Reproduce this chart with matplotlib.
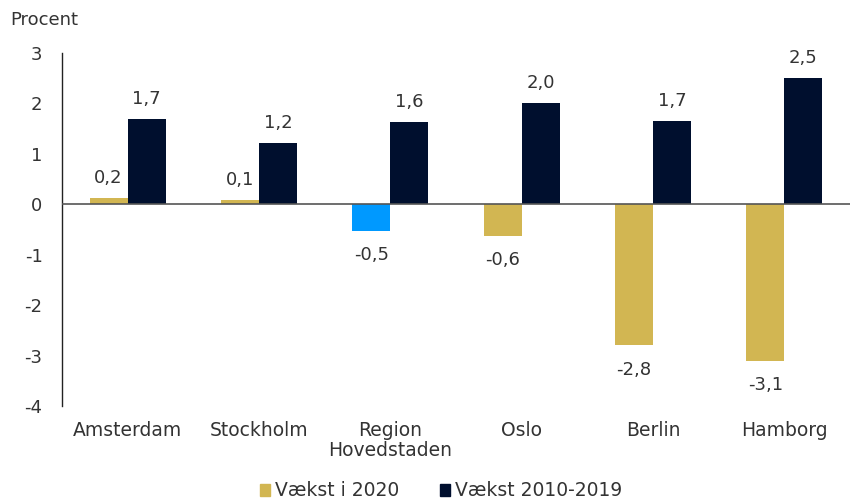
import matplotlib
matplotlib.use("Agg")
import matplotlib.pyplot as plt
import numpy as np
from matplotlib.patches import Patch

categories = ["Amsterdam", "Stockholm", "Region\nHovedstaden", "Oslo", "Berlin", "Hamborg"]
growth_2020 = [0.12, 0.08, -0.52, -0.63, -2.8, -3.1]
growth_2020_labels = ["0,2", "0,1", "-0,5", "-0,6", "-2,8", "-3,1"]
growth_2010_2019 = [1.69, 1.21, 1.63, 2.0, 1.65, 2.5]
growth_2010_2019_labels = ["1,7", "1,2", "1,6", "2,0", "1,7", "2,5"]
yticks = [-4, -3, -2, -1, 0, 1, 2, 3]

gold = "#D2B652"
navy = "#000F2E"
blue = "#0099FF"
txt = "#333333"

fig = plt.figure(figsize=(8.5, 5.01), dpi=100)
ax = fig.add_axes([62/850, 1-406/501, 1-62/850, (406-53)/501])

x = np.arange(len(categories))
w = 0.29
colors_2020 = [blue if "Region" in c else gold for c in categories]
b1 = ax.bar(x - w/2, growth_2020, w, color=colors_2020, zorder=2)
b2 = ax.bar(x + w/2, growth_2010_2019, w, color=navy, zorder=2)

numfont = dict(fontsize=13, color=txt, family="DejaVu Sans")
for bars, labels in ((b1, growth_2020_labels), (b2, growth_2010_2019_labels)):
    for bar, lab in zip(bars, labels):
        h = bar.get_height()
        xc = bar.get_x() + bar.get_width()/2
        if h >= 0:
            ax.annotate(lab, (xc, h), xytext=(0, 8), textcoords="offset points",
                        ha="center", va="bottom", **numfont)
        else:
            ax.annotate(lab, (xc, h), xytext=(0, -11), textcoords="offset points",
                        ha="center", va="top", **numfont)

ax.axhline(0, color="#555555", lw=1.2, zorder=3)
ax.set_xlim(-0.5, len(categories) - 0.5)
ax.set_ylim(-4, 3)
ax.set_yticks(yticks)
ax.set_yticklabels([str(t) for t in yticks], fontsize=13, color=txt, family="DejaVu Sans")
ax.tick_params(axis="y", length=0, pad=14)
ax.set_xticks(x)
ax.set_xticklabels(categories, fontsize=13.5, color=txt, family="DejaVu Sans", linespacing=1.05)
ax.tick_params(axis="x", length=0, pad=11)
for s in ("top", "right", "bottom"):
    ax.spines[s].set_visible(False)
ax.spines["left"].set_color("#222222")
ax.spines["left"].set_linewidth(1.0)

fig.text(10/850, 1-20/501, "Procent", fontsize=13, color=txt, va="center", ha="left",
         family="DejaVu Sans")

handles = [Patch(color=gold, label="Vækst i 2020"), Patch(color=navy, label="Vækst 2010-2019")]
fig.legend(handles=handles, loc="center", bbox_to_anchor=(441/850, 1-491/501), ncol=2,
           frameon=False, handlelength=0.55, handleheight=0.55, handletextpad=0.25,
           columnspacing=2.2, labelcolor=txt, prop=dict(family="DejaVu Sans", size=13.5))

fig.savefig("out.png", dpi=100)
